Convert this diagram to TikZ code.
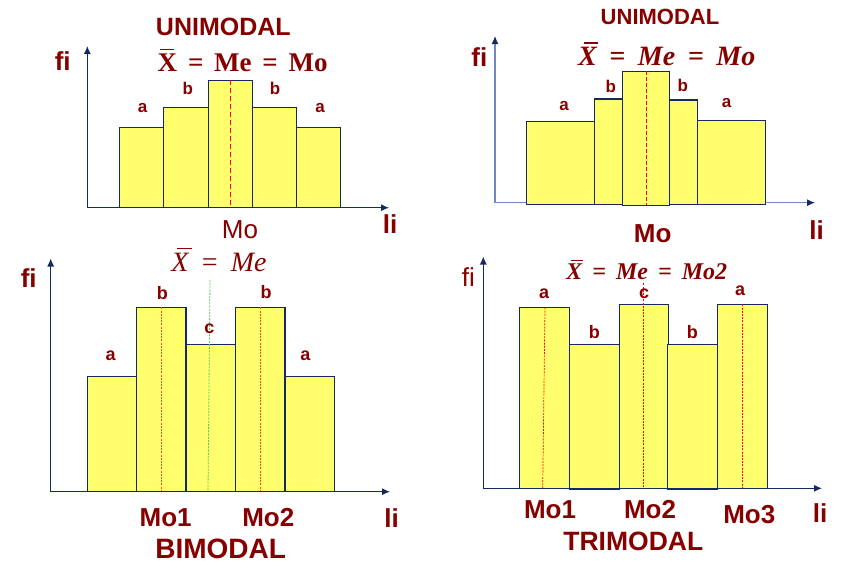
\documentclass[tikz,border=0pt]{standalone}
\usepackage{fontspec}
\newfontfamily\lsans{Liberation Sans}
\newfontfamily\lserif{Liberation Serif}
\usetikzlibrary{arrows.meta}
\definecolor{dred}{RGB}{135,0,0}
\definecolor{navy}{RGB}{20,40,100}
\definecolor{steel}{RGB}{115,135,195}
\definecolor{barY}{RGB}{255,255,110}
\definecolor{lgreen}{RGB}{90,200,90}
\definecolor{ored}{RGB}{240,70,40}
\newcommand\XB[1]{\rlap{\kern#1\raisebox{0.78em}{\rule{0.52em}{0.06em}}}X}
\newcommand\EQ[1]{\hspace{#1}=\hspace{#1}}
\tikzset{
  x=1pt, y=-1pt,
  bar/.style={draw=navy, fill=barY, line width=1.1pt},
  axis/.style={draw=navy, line width=1.1pt, -{Latex[length=8pt,width=7pt]}},
  axisl/.style={draw=steel, line width=1.1pt, -{Latex[length=8pt,width=7pt,color=navy]}},
  lbl/.style={text=dred, inner sep=0pt, font=\lsans\bfseries\fontsize{17}{17}\selectfont},
  lblb/.style={text=dred, inner sep=0pt, font=\lsans\bfseries\fontsize{18}{18}\selectfont},
  big/.style={text=dred, inner sep=0pt, font=\lsans\bfseries\fontsize{26}{26}\selectfont},
  bigr/.style={text=dred, inner sep=0pt, font=\lsans\fontsize{26}{26}\selectfont},
  mth/.style={text=dred, inner sep=0pt},
  mline/.style={draw=red, line width=1pt, dash pattern=on 5pt off 3pt},
  fline/.style={draw=ored, line width=0.7pt, dash pattern=on 2pt off 1.2pt},
  gline/.style={draw=lgreen, line width=0.8pt, dash pattern=on 2pt off 1.2pt},
}
\begin{document}
\begin{tikzpicture}
\useasboundingbox (0,0) rectangle (850,571);
\fill[white] (0,0) rectangle (850,571);

% ---------------- Panel 1 (top-left) ----------------
\draw[bar] (119.3,207.7) rectangle (163.7,127.3);
\draw[bar] (163.7,207.7) rectangle (208.3,107.3);
\draw[bar] (208.3,207.7) rectangle (252.3,80.3);
\draw[bar] (252.3,207.7) rectangle (296.7,107.3);
\draw[bar] (296.7,207.7) rectangle (340.7,127.3);
\draw[mline] (230.3,80.3) -- (230.3,207.7);
\draw[axis] (87.3,207.7) -- (87.3,46);
\draw[axis] (87.3,207.7) -- (389,207.7);
\node[lbl] (a11) at (142.7,108.3) {a};
\node[lbl] (b11) at (187.7,88.3) {b};
\node[lbl] (b12) at (275,88.3) {b};
\node[lbl] (a12) at (320,108.3) {a};
\node[big] (fi1) at (62.7,61) {fi};
\node[big] (li1) at (390,224) {li};
\node[big,font=\lsans\bfseries\fontsize{25}{25}\selectfont] (t1) at (223.3,26.7) {UNIMODAL};
\node[mth,font=\lserif\bfseries\fontsize{27}{27}\selectfont] (m1) at (242.7,60) {\XB{0.1em}\EQ{0.4em}Me\EQ{0.4em}Mo};
\node[bigr] (mo1) at (240,229.3) {Mo};

% ---------------- Panel 2 (top-right) ----------------
\draw[axisl] (495,202.7) -- (495,36);
\draw[axisl] (495,202.7) -- (815,202.7);
\draw[bar] (526.7,204.3) rectangle (595.3,121.3);
\draw[bar] (594.3,204.3) rectangle (622.7,99);
\draw[bar] (668.7,204.3) rectangle (697.3,100);
\draw[bar] (697.3,204.3) rectangle (765.3,120.3);
\draw[bar] (622.7,205.3) rectangle (669.3,71.3);
\draw[mline,line width=0.8pt,dash pattern=on 4pt off 2pt] (646.7,71.3) -- (646.7,205.3);
\node[lbl] (a21) at (564,106) {a};
\node[lbl] (b21) at (610.7,86.7) {b};
\node[lbl] (b22) at (682.7,85) {b};
\node[lbl] (a22) at (726.7,103.3) {a};
\node[big] (fi2) at (479.3,56.7) {fi};
\node[big] (li2) at (816.7,230) {li};
\node[big,font=\lsans\bfseries\fontsize{22}{22}\selectfont] (t2) at (660,16.7) {UNIMODAL};
\node[mth,font=\lserif\bfseries\itshape\fontsize{28}{28}\selectfont] (m2) at (666.7,54) {\XB{0.2em}\EQ{0.45em}Me\EQ{0.45em}Mo};
\node[big] (mo2) at (652.7,233.3) {Mo};

% ---------------- Panel 3 (bottom-left) ----------------
\draw[bar] (87.3,491.7) rectangle (136.3,376.3);
\draw[bar] (136.3,491.7) rectangle (186,307.3);
\draw[bar] (186,491.7) rectangle (235.3,344.3);
\draw[bar] (235.3,491.7) rectangle (285,307.3);
\draw[bar] (285,491.7) rectangle (334.3,376.3);
\draw[fline] (161.3,307.3) -- (161.3,491.7);
\draw[fline] (260.3,307.3) -- (260.3,491.7);
\draw[gline] (210,280) -- (208,491.7);
\draw[axis] (50.7,491.7) -- (50.7,258.5);
\draw[axis] (50.7,491.7) -- (390,491.7);
\node[lblb] (a31) at (110.7,356) {a};
\node[lblb] (b31) at (162.3,293.3) {b};
\node[lblb] (c31) at (209.3,328.3) {c};
\node[lblb] (b32) at (266,291.7) {b};
\node[lblb] (a32) at (305.3,355.3) {a};
\node[big] (fi3) at (28.7,278.3) {fi};
\node[big] (li3) at (391.7,518.3) {li};
\node[mth,font=\lserif\itshape\fontsize{28}{28}\selectfont] (m3) at (219,259.5) {\XB{0.2em}\EQ{0.42em}Me};
\node[big] (mo31) at (165.7,517.7) {Mo1};
\node[big] (mo32) at (268.3,517.7) {Mo2};
\node[big,font=\lsans\bfseries\fontsize{28}{28}\selectfont] (t3) at (220.7,549.3) {BIMODAL};

% ---------------- Panel 4 (bottom-right) ----------------
\draw[bar] (519.3,488.3) rectangle (569.3,307.3);
\draw[bar] (569.3,489.3) rectangle (619.3,344.3);
\draw[bar] (619.3,488.3) rectangle (668.3,304.3);
\draw[bar] (667.7,489.3) rectangle (717.3,344.3);
\draw[bar] (717.3,488.3) rectangle (767.3,304.3);
\draw[fline,draw=red] (545,307.3) -- (542.7,488.3);
\draw[fline,draw=red] (643.3,283.3) -- (643.3,488.3);
\draw[fline,draw=red] (742.7,304.3) -- (742.7,488.3);
\draw[axis] (483.3,488.3) -- (483.3,256.5);
\draw[axis] (483.3,488.3) -- (822,488.3);
\node[lblb] (a41) at (544,293.3) {a};
\node[lblb] (b41) at (594.3,331.7) {b};
\node[lblb] (c41) at (644,293.3) {c};
\node[lblb] (b42) at (692.3,331.7) {b};
\node[lblb] (a42) at (740,290.7) {a};
\node[bigr] (fi4) at (468.3,276.7) {fi};
\node[big] (li4) at (820,513.3) {li};
\node[mth,font=\lserif\bfseries\itshape\fontsize{24}{24}\selectfont] (m4) at (646.7,270) {\XB{0.2em}\EQ{0.42em}Me\EQ{0.42em}Mo2};
\node[big] (mo41) at (550,510) {Mo1};
\node[big] (mo42) at (650,510) {Mo2};
\node[big] (mo43) at (749.3,515) {Mo3};
\node[big,font=\lsans\bfseries\fontsize{26.5}{26.5}\selectfont] (t4) at (633.3,541.7) {TRIMODAL};
\end{tikzpicture}
\end{document}
